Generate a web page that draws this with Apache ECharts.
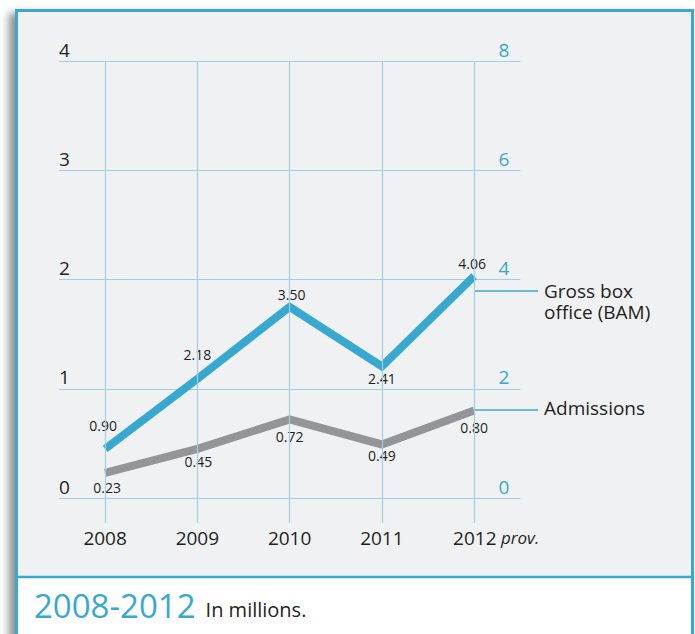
<!DOCTYPE html>
<html>
<head>
<meta charset="utf-8">
<script src="https://cdn.jsdelivr.net/npm/echarts@6/dist/echarts.min.js"></script>
<style>
html,body{margin:0;padding:0;background:#fff;}
#chart{width:695px;height:634px;}
</style>
</head>
<body>
<div id="chart"></div>
<script>
// ---- data ----
const years = ['2008', '2009', '2010', '2011', '2012'];
const lastYearNote = 'prov.';
const grossBoxOffice = [0.90, 2.18, 3.50, 2.41, 4.06];   // right axis (BAM, millions)
const admissions = [0.23, 0.45, 0.72, 0.49, 0.80];       // left axis (millions)
const leftTicks = [0, 1, 2, 3, 4];
const rightTicks = [0, 2, 4, 6, 8];
const grossNameLines = ['Gross box', 'office (BAM)'];
const admissionsName = 'Admissions';
const captionYears = '2008-2012';
const captionText = 'In millions.';

// ---- styles ----
const BLUE = '#37a9d0';
const GRAY = '#939598';
const GRID = '#9fd0e6';
const INK = '#231f20';
const FONT = '"Open Sans", "Noto Sans", sans-serif';

const grossLabelStyle = [
  { position: 'top', offset: [-2, -11] },
  { position: 'top', offset: [0, -12] },
  { position: 'top', offset: [2, 0] },
  { position: 'bottom', offset: [0, 0] },
  { position: 'top', offset: [-2, 0] }
];
const admLabelStyle = [
  { position: 'bottom', offset: [2, 2] },
  { position: 'bottom', offset: [1, 0] },
  { position: 'bottom', offset: [0, 5] },
  { position: 'bottom', offset: [0, -1] },
  { position: 'bottom', offset: [0, 4] }
];

const chart = echarts.init(document.getElementById('chart'), null, { renderer: 'svg' });

function labelled(values, styles) {
  return values.map((v, i) => ({ value: v, label: styles[i] }));
}

const option = {
  animation: false,
  backgroundColor: '#ffffff',
  textStyle: { fontFamily: FONT },
  graphic: [
    {
      type: 'rect', z: -10, silent: true,
      shape: { x: 16.5, y: 10.5, width: 676, height: 640 },
      style: { fill: '#f0f1f3', stroke: BLUE, lineWidth: 3,
        shadowBlur: 8, shadowColor: 'rgba(0,0,0,0.45)', shadowOffsetX: -6, shadowOffsetY: 4 }
    },
    {
      type: 'rect', z: -9, silent: true,
      shape: { x: 18, y: 577, width: 673, height: 70 },
      style: { fill: '#ffffff' }
    },
    {
      type: 'line', z: -8, silent: true,
      shape: { x1: 16, y1: 577, x2: 694, y2: 577 },
      style: { stroke: BLUE, lineWidth: 2.5 }
    },
    // annotation connectors + names
    {
      type: 'line', silent: true,
      shape: { x1: 474, y1: 291, x2: 538, y2: 291 },
      style: { stroke: BLUE, lineWidth: 1.5 }
    },
    {
      type: 'text', silent: true, left: 544, top: 281,
      style: { text: grossNameLines[0], fill: INK, font: '19px ' + FONT }
    },
    {
      type: 'text', silent: true, left: 544, top: 302,
      style: { text: grossNameLines[1], fill: INK, font: '19px ' + FONT }
    },
    {
      type: 'line', silent: true,
      shape: { x1: 474, y1: 410, x2: 538, y2: 410 },
      style: { stroke: BLUE, lineWidth: 1.5 }
    },
    {
      type: 'text', silent: true, left: 544, top: 398,
      style: { text: admissionsName, fill: INK, font: '19px ' + FONT }
    },
    {
      type: 'text', silent: true, left: 34, top: 589,
      style: {
        text: '{a|' + captionYears + '}{b|' + captionText + '}',
        rich: {
          a: { fontSize: 33, fill: BLUE, fontFamily: FONT },
          b: { fontSize: 20, fill: INK, fontFamily: FONT, padding: [8, 0, 0, 10] }
        }
      }
    }
  ],
  grid: { left: 59, top: 61, width: 461.25, height: 437, containLabel: false },
  xAxis: {
    type: 'category',
    data: years,
    boundaryGap: true,
    axisLine: { show: false },
    axisTick: { show: true, alignWithLabel: true, length: 25, lineStyle: { color: GRID, width: 1.2 } },
    splitLine: { show: false },
    axisLabel: {
      interval: 0, hideOverlap: false,
      margin: 30, color: INK, fontSize: 19, fontFamily: FONT,
      formatter: (v, i) => i === years.length - 1 ? '{y|' + v + '}{n| ' + lastYearNote + '}' : v,
      rich: {
        y: { fontSize: 19, color: INK, fontFamily: FONT, padding: [0, 0, 0, 44] },
        n: { fontSize: 17, color: INK, fontFamily: FONT, fontStyle: 'italic' }
      }
    }
  },
  yAxis: [
    {
      type: 'value', min: leftTicks[0], max: leftTicks[leftTicks.length - 1], interval: leftTicks[1] - leftTicks[0],
      position: 'left',
      axisLine: { show: false }, axisTick: { show: false },
      splitLine: { show: true, lineStyle: { color: GRID, width: 1.2 } },
      axisLabel: { inside: true, margin: 0, verticalAlign: 'bottom', color: INK, fontSize: 19, fontFamily: FONT, padding: [0, 0, 2, 0] }
    },
    {
      type: 'value', min: rightTicks[0], max: rightTicks[rightTicks.length - 1], interval: rightTicks[1] - rightTicks[0],
      position: 'right',
      axisLine: { show: false }, axisTick: { show: false },
      splitLine: { show: false },
      axisLabel: { inside: true, margin: 11, verticalAlign: 'bottom', color: BLUE, fontSize: 19, fontFamily: FONT, padding: [0, 0, 2, 0] }
    }
  ],
  series: [
    {
      type: 'line', name: 'gridlines', z: 1, silent: true, data: [],
      markLine: {
        silent: true, symbol: 'none', animation: false,
        label: { show: false },
        lineStyle: { color: GRID, width: 1.2, type: 'solid', opacity: 1 },
        emphasis: { disabled: true },
        data: years.map(y => ({ xAxis: y }))
      }
    },
    {
      type: 'line', name: admissionsName, yAxisIndex: 0, z: 3,
      data: labelled(admissions, admLabelStyle),
      symbol: 'circle', symbolSize: 1, showSymbol: true,
      itemStyle: { color: GRAY },
      lineStyle: { color: GRAY, width: 8, join: 'miter', cap: 'butt' },
      label: { show: true, color: INK, fontSize: 14, fontFamily: FONT, distance: 5, formatter: p => p.value.toFixed(2) }
    },
    {
      type: 'line', name: 'Gross box office (BAM)', yAxisIndex: 1, z: 4,
      data: labelled(grossBoxOffice, grossLabelStyle),
      symbol: 'circle', symbolSize: 1, showSymbol: true,
      itemStyle: { color: BLUE },
      lineStyle: { color: BLUE, width: 8, join: 'miter', cap: 'butt' },
      label: { show: true, color: INK, fontSize: 14, fontFamily: FONT, distance: 5, formatter: p => p.value.toFixed(2) }
    }
  ]
};
chart.setOption(option);
</script>
</body>
</html>
